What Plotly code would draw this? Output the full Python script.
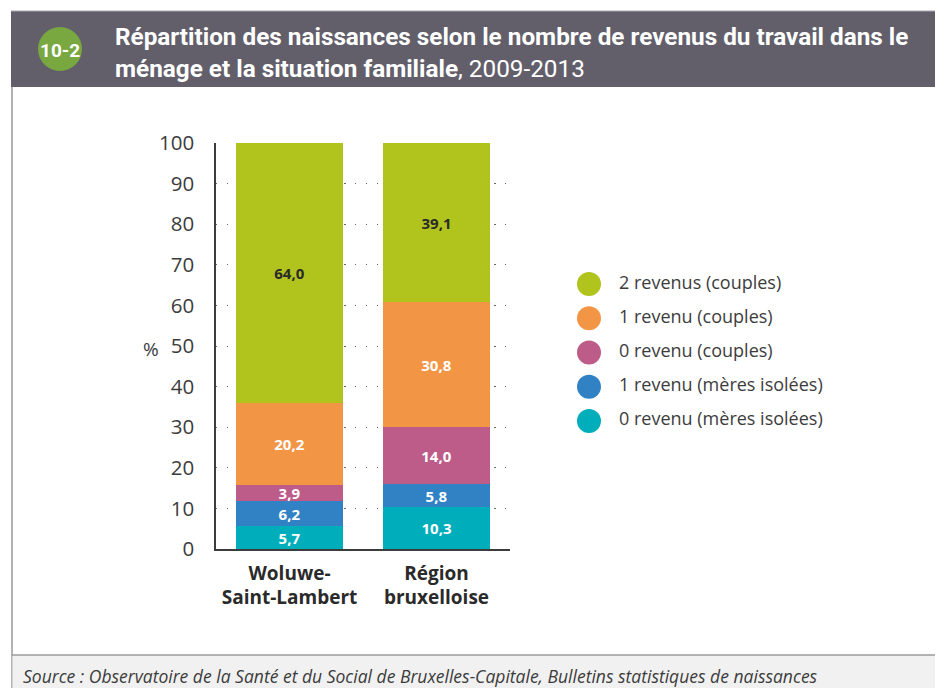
import plotly.graph_objects as go

W, H = 943, 688
OFF = 8  # page body margin in the viewer

categories = ["Woluwe-<br>Saint-Lambert", "Région<br>bruxelloise"]
series_names = [
    "0 revenu (mères isolées)",
    "1 revenu (mères isolées)",
    "0 revenu (couples)",
    "1 revenu (couples)",
    "2 revenus (couples)",
]
values_woluwe = [5.7, 6.2, 3.9, 20.2, 64.0]
values_region = [10.3, 5.8, 14.0, 30.8, 39.1]
colors = ["#00adba", "#3182c4", "#bd5b89", "#f29646", "#b1c31d"]
text_colors = ["white", "white", "white", "white", "#2a2a2a"]
y_ticks = list(range(0, 101, 10))

TITLE_FONT = "Roboto, sans-serif"
BODY = "Open Sans, Noto Sans, sans-serif"
TXT = "#3c3c3c"


def px(x):
    return (x - OFF) / W


def py(y):
    return 1 - (y - OFF) / H


fig = go.Figure()
x_idx = [0, 1]
for i, name in enumerate(series_names):
    fig.add_trace(go.Bar(
        x=x_idx,
        y=[values_woluwe[i], values_region[i]],
        name=name,
        marker=dict(color=colors[i], line=dict(width=0)),
        width=0.728,
        texttemplate="<b>%{y:.1f}</b>",
        textposition="inside",
        insidetextanchor="middle",
        textangle=0,
        constraintext="none",
        textfont=dict(family=BODY, size=15, color=text_colors[i]),
        showlegend=False,
        hoverinfo="skip",
    ))

# legend drawn as a scatter on a hidden secondary axis (circles + labels)
legend_order = list(range(len(series_names)))[::-1]
for rank, i in enumerate(legend_order):
    fig.add_trace(go.Scatter(
        x=[0], y=[rank],
        mode="markers+text",
        marker=dict(symbol="circle", size=24, color=colors[i]),
        text=["   " + series_names[i]],
        textposition="middle right",
        textfont=dict(family=BODY, size=18, color=TXT),
        xaxis="x2", yaxis="y2",
        showlegend=False, cliponaxis=False, hoverinfo="skip",
    ))

fig.update_layout(
    width=W, height=H,
    margin=dict(l=0, r=0, t=0, b=0, autoexpand=False),
    paper_bgcolor="white", plot_bgcolor="rgba(0,0,0,0)",
    barmode="stack",
    separators=", ",
    bargap=0,
    showlegend=False,
    xaxis=dict(
        domain=[px(216), px(510)],
        range=[-0.5, 1.5],
        tickvals=x_idx,
        ticktext=["<b>" + c + "</b>" for c in categories],
        tickfont=dict(family=BODY, size=19, color="#2a2a2a"),
        showline=True, linecolor=TXT, linewidth=1.5,
        showgrid=False, zeroline=False, ticks="",
        ticklabelstandoff=6,
        automargin=False,
        fixedrange=True,
    ),
    yaxis=dict(
        domain=[py(549), py(143)],
        range=[0, 100],
        tickvals=y_ticks,
        tickfont=dict(family=BODY, size=20.5, color=TXT),
        showline=True, linecolor=TXT, linewidth=1.5,
        showgrid=True, gridcolor="#666666", gridwidth=1.3, griddash="1.3px,9.4px",
        zeroline=False, ticks="",
        ticklabelstandoff=16,
        automargin=False,
        fixedrange=True,
    ),
    xaxis2=dict(domain=[px(589), px(900)], range=[0, 311], visible=False, fixedrange=True, automargin=False),
    yaxis2=dict(domain=[py(438), py(267)], range=[4.5, -0.5], visible=False, fixedrange=True, automargin=False),
    shapes=[
        # header band
        dict(type="rect", xref="paper", yref="paper", x0=px(11), x1=1.0, y0=py(87), y1=py(11),
             fillcolor="#625f6b", line=dict(width=0), layer="above"),
        dict(type="line", xref="paper", yref="paper", x0=px(11), x1=1.0, y0=py(11), y1=py(11),
             line=dict(color="#a9a7b0", width=1), layer="above"),
        # left border
        dict(type="line", xref="paper", yref="paper", x0=px(12), x1=px(12), y0=py(87), y1=py(696),
             line=dict(color="#9a9a9a", width=1.5)),
        # footer band
        dict(type="rect", xref="paper", yref="paper", x0=px(12.5), x1=1.0, y0=py(696), y1=py(655),
             fillcolor="#f1f1f1", line=dict(width=0)),
        dict(type="line", xref="paper", yref="paper", x0=px(12), x1=1.0, y0=py(655), y1=py(655),
             line=dict(color="#9a9a9a", width=1.5)),
        # number badge
        dict(type="circle", xref="paper", yref="paper", x0=px(38), x1=px(82), y0=py(71), y1=py(27),
             fillcolor="#79a840", line=dict(width=0), layer="above"),
    ],
    annotations=[
        dict(text="<b>10-2</b>", xref="paper", yref="paper", x=px(60), y=py(50),
             showarrow=False, xanchor="center", yanchor="middle",
             font=dict(family=TITLE_FONT, size=19, color="white")),
        dict(text="<b>Répartition des naissances selon le nombre de revenus du travail dans le</b><br>"
                  "<b>ménage et la situation familiale</b>, 2009-2013",
             xref="paper", yref="paper", x=px(113), y=py(52),
             showarrow=False, xanchor="left", yanchor="middle", align="left",
             font=dict(family=TITLE_FONT, size=24.3, color="white")),
        dict(text="%", xref="paper", yref="paper", x=px(151), y=py(349),
             showarrow=False, xanchor="center", yanchor="middle",
             font=dict(family=BODY, size=19, color=TXT)),
        dict(text="<i>Source : Observatoire de la Santé et du Social de Bruxelles-Capitale, Bulletins statistiques de naissances</i>",
             xref="paper", yref="paper", x=px(21), y=py(676),
             showarrow=False, xanchor="left", yanchor="middle",
             font=dict(family=BODY, size=17.5, color="#3c3c3c")),
    ],
)

fig.write_html("out.html")
